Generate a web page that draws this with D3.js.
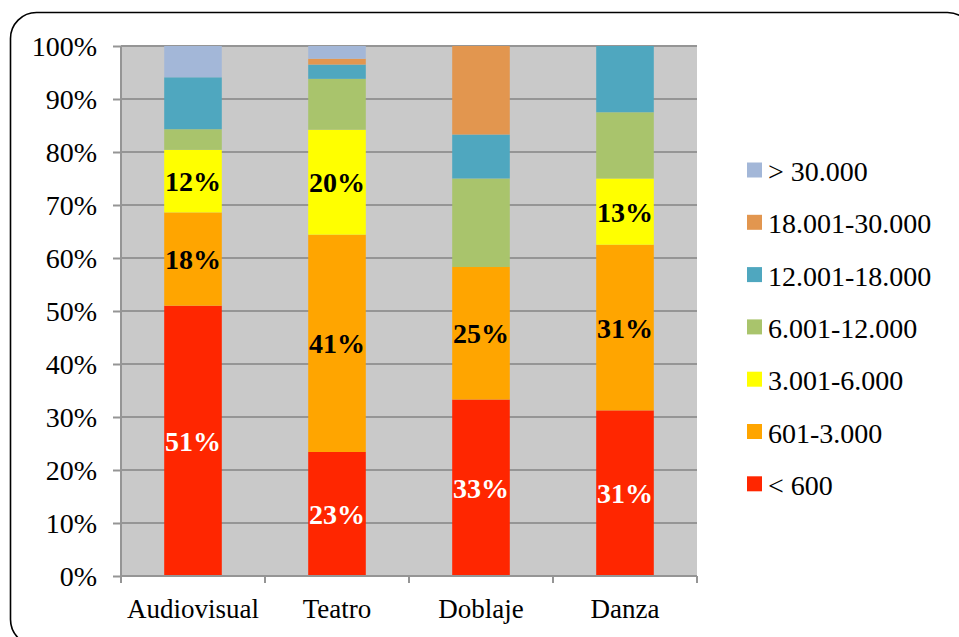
<!DOCTYPE html>
<html><head><meta charset="utf-8">
<script src="https://cdn.jsdelivr.net/npm/d3@7"></script>
<style>body{margin:0;background:#fff}svg{display:block}</style>
</head><body>
<svg id="c" width="959" height="637"></svg>
<script>
const categories = ["Audiovisual", "Teatro", "Doblaje", "Danza"];
const seriesNames = ["< 600", "601-3.000", "3.001-6.000", "6.001-12.000", "12.001-18.000", "18.001-30.000", "> 30.000"];
const seriesColors = ["#ff2600", "#ffa500", "#ffff00", "#a9c46c", "#4fa7bf", "#e2964f", "#a3b7d8"];
const labelColors = ["#ffffff", "#000000", "#000000"];
// percentage values per series, in category order
const s600 = [51.0, 23.4, 33.3, 31.25];
const s3000 = [17.6, 41.0, 25.0, 31.25];
const s6000 = [11.8, 19.8, 0, 12.5];
const s12000 = [3.9, 9.6, 16.7, 12.5];
const s18000 = [9.8, 2.7, 8.3, 12.5];
const s30000 = [0, 1.1, 16.7, 0];
const sOver = [5.9, 2.4, 0, 0];
const yTicks = [0, 10, 20, 30, 40, 50, 60, 70, 80, 90, 100];

const seriesValues = [s600, s3000, s6000, s12000, s18000, s30000, sOver];
const rows = categories.map((c, i) => {
  const r = {cat: c};
  seriesNames.forEach((s, j) => r[s] = seriesValues[j][i]);
  return r;
});

const svg = d3.select("#c");
const serif = "'Liberation Serif', 'DejaVu Serif', serif";

svg.append("rect").attr("x", 10.5).attr("y", 12.5).attr("width", 963).attr("height", 633)
  .attr("rx", 26).attr("fill", "#fff").attr("stroke", "#000").attr("stroke-width", 1.6);

const pLeft = 121, pRight = 697, pTop = 46, pBottom = 576;
const x = d3.scaleBand().domain(categories).range([pLeft, pRight]).paddingInner(0.6).paddingOuter(0.3);
const y = d3.scaleLinear().domain([0, 100]).range([pBottom, pTop]);

svg.append("rect").attr("x", pLeft).attr("y", pTop).attr("width", pRight - pLeft).attr("height", pBottom - pTop).attr("fill", "#c9c9c9");

// grid lines
svg.append("g").selectAll("line").data(yTicks.filter(d => d > 0)).join("line")
  .attr("x1", pLeft).attr("x2", pRight).attr("y1", d => y(d)).attr("y2", d => y(d))
  .attr("stroke", "#959595").attr("stroke-width", 2);

// y axis
const yAxis = svg.append("g").attr("transform", `translate(${pLeft},0)`)
  .call(d3.axisLeft(y).tickValues(yTicks).tickSize(8).tickPadding(16).tickFormat(d => d + "%"));
yAxis.select(".domain").attr("stroke", "#959595").attr("stroke-width", 2).attr("d", `M0,${pTop}V${pBottom + 6}`);
yAxis.selectAll(".tick line").attr("stroke", "#959595").attr("stroke-width", 2);
yAxis.selectAll("text").attr("font-family", serif).attr("font-size", 28).attr("fill", "#000").attr("dy", "0.34em");

// stacked bars
const stack = d3.stack().keys(seriesNames)(rows);
const layers = svg.append("g").selectAll("g").data(stack).join("g")
  .attr("fill", (d, i) => seriesColors[i]);
layers.selectAll("rect").data(d => d).join("rect")
  .attr("x", d => x(d.data.cat)).attr("width", x.bandwidth())
  .attr("y", d => y(d[1])).attr("height", d => y(d[0]) - y(d[1]));

// x axis
const xb = d3.scaleLinear().domain([0, 4]).range([pLeft, pRight]);
const xg = svg.append("g");
xg.append("line").attr("x1", pLeft).attr("x2", pRight).attr("y1", pBottom).attr("y2", pBottom)
  .attr("stroke", "#959595").attr("stroke-width", 2);
xg.selectAll("line.t").data(d3.range(5)).join("line").attr("class", "t")
  .attr("x1", d => xb(d)).attr("x2", d => xb(d)).attr("y1", pBottom).attr("y2", pBottom + 7)
  .attr("stroke", "#959595").attr("stroke-width", 2);
xg.selectAll("text").data(categories).join("text")
  .attr("x", d => x(d) + x.bandwidth() / 2).attr("y", 618)
  .attr("text-anchor", "middle").attr("font-family", serif).attr("font-size", 27).attr("fill", "#000")
  .text(d => d);

// data labels for first three series
const lab = svg.append("g");
stack.slice(0, 3).forEach((layer, i) => {
  lab.selectAll(null).data(layer.filter(d => d[1] - d[0] > 0)).join("text")
    .attr("x", d => x(d.data.cat) + x.bandwidth() / 2)
    .attr("y", d => y((d[0] + d[1]) / 2))
    .attr("dy", "0.36em").attr("text-anchor", "middle")
    .attr("font-family", serif).attr("font-weight", "bold").attr("font-size", 28)
    .attr("fill", labelColors[i])
    .text(d => Math.round(d[1] - d[0]) + "%");
});

// legend
const legendOrder = seriesNames.map((s, i) => i).reverse();
const lg = svg.append("g").selectAll("g").data(legendOrder).join("g")
  .attr("transform", (d, k) => `translate(747,${170 + k * 52.3})`);
lg.append("rect").attr("x", 0).attr("y", -7.5).attr("width", 15).attr("height", 15).attr("fill", d => seriesColors[d]);
lg.append("text").attr("x", 21).attr("y", 1).attr("dy", "0.36em")
  .attr("font-family", serif).attr("font-size", 28).attr("fill", "#000").text(d => seriesNames[d]);
</script>
</body></html>
